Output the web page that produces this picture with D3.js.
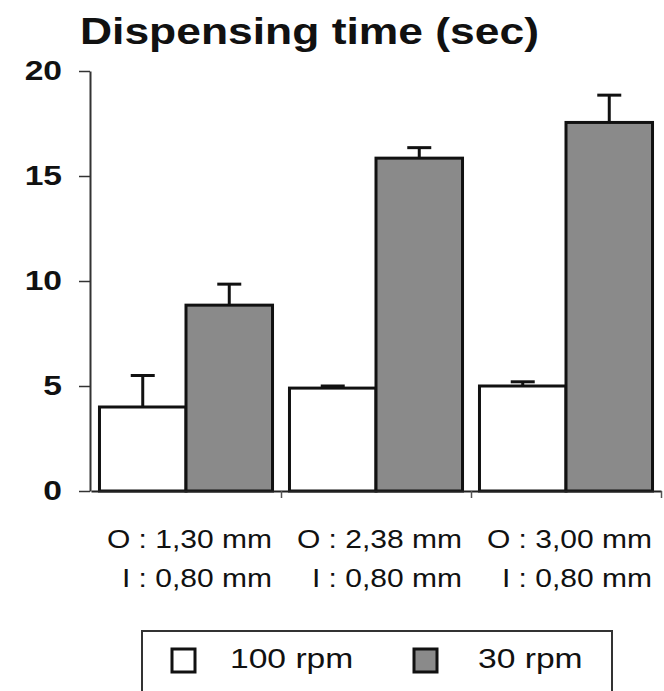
<!DOCTYPE html>
<meta charset="utf-8">
<html>
<head>
  <title>Dispensing time</title>
  <style>
    body { margin: 0; background: #fff; }
    text { font-family: "Liberation Sans", Arial, sans-serif; fill: #111; }
  </style>
</head>
<body>
  <script src="https://d3js.org/d3.v7.js"></script>
  <div id="chart"></div>
  <script>
    // data
    var groups = ["g1", "g2", "g3"];
    var labelsO = ["O : 1,30 mm", "O : 2,38 mm", "O : 3,00 mm"];
    var labelsI = ["I : 0,80 mm", "I : 0,80 mm", "I : 0,80 mm"];
    var seriesNames = ["100 rpm", "30 rpm"];
    var rpm100 = [4.0, 4.9, 5.0];
    var err100 = [1.5, 0.1, 0.2];
    var rpm30 = [8.85, 15.85, 17.55];
    var err30 = [1.0, 0.5, 1.3];
    var yTicks = [0, 5, 10, 15, 20];

    var colors = { "100 rpm": "#ffffff", "30 rpm": "#8a8a8a" };
    var sx = 1.2; // the figure is stretched horizontally

    var W = 664, H = 691;
    var margin = { top: 71, right: 3, bottom: 200, left: 90 };

    var svg = d3.select("#chart").append("svg")
      .attr("width", W).attr("height", H);

    // widen text like the scanned figure
    function stretch(sel) {
      sel.each(function () {
        var w = this.getComputedTextLength();
        this.setAttribute("textLength", w * sx);
        this.setAttribute("lengthAdjust", "spacingAndGlyphs");
      });
    }

    var data = groups.map(function (g, i) {
      return {
        group: g,
        bars: [
          { name: seriesNames[0], v: rpm100[i], e: err100[i] },
          { name: seriesNames[1], v: rpm30[i], e: err30[i] }
        ]
      };
    });

    var y = d3.scaleLinear().domain([0, 20]).range([H - margin.bottom, margin.top]);
    var x0 = d3.scaleBand().domain(groups).range([margin.left + 1, W - margin.right]).padding(0);
    var x1 = d3.scaleBand().domain(seriesNames).range([0, x0.bandwidth()])
      .paddingInner(0).paddingOuter(0.098);

    // title
    svg.append("text")
      .attr("x", 80).attr("y", 44)
      .style("font-size", "37px").style("font-weight", "bold")
      .text("Dispensing time (sec)")
      .call(stretch);

    // bars
    var gGroups = svg.selectAll(".grp").data(data).enter().append("g")
      .attr("class", "grp")
      .attr("transform", function (d) { return "translate(" + x0(d.group) + ",0)"; });

    gGroups.selectAll("rect").data(function (d) { return d.bars; }).enter().append("rect")
      .attr("x", function (d) { return x1(d.name); })
      .attr("y", function (d) { return y(d.v); })
      .attr("width", x1.bandwidth())
      .attr("height", function (d) { return y(0) - y(d.v); })
      .attr("fill", function (d) { return colors[d.name]; })
      .attr("stroke", "#111").attr("stroke-width", 3);

    // error bars
    var capW = 24;
    var eb = gGroups.selectAll(".err").data(function (d) { return d.bars; }).enter().append("g")
      .attr("class", "err").attr("stroke", "#111").attr("stroke-width", 3);
    eb.append("line")
      .attr("x1", function (d) { return x1(d.name) + x1.bandwidth() / 2; })
      .attr("x2", function (d) { return x1(d.name) + x1.bandwidth() / 2; })
      .attr("y1", function (d) { return y(d.v); })
      .attr("y2", function (d) { return y(d.v + d.e); });
    eb.append("line")
      .attr("x1", function (d) { return x1(d.name) + x1.bandwidth() / 2 - capW / 2; })
      .attr("x2", function (d) { return x1(d.name) + x1.bandwidth() / 2 + capW / 2; })
      .attr("y1", function (d) { return y(d.v + d.e); })
      .attr("y2", function (d) { return y(d.v + d.e); });

    // y axis
    var yAxis = svg.append("g")
      .attr("transform", "translate(" + margin.left + ",0)")
      .call(d3.axisLeft(y).tickValues(yTicks).tickSize(11).tickSizeOuter(0).tickPadding(17));
    yAxis.select(".domain").attr("stroke", "#333").attr("stroke-width", 2);
    yAxis.selectAll(".tick line").attr("stroke", "#333").attr("stroke-width", 1.5);
    yAxis.selectAll(".tick text")
      .style("font-size", "28px").style("font-weight", "bold").style("font-family", "Liberation Sans, Arial, sans-serif")
      .attr("fill", "#111")
      .call(stretch);

    // x axis: baseline with ticks at group boundaries
    var xb = d3.scaleLinear().domain([0, groups.length]).range(x0.range());
    var xAxis = svg.append("g")
      .attr("transform", "translate(0," + y(0) + ")")
      .call(d3.axisBottom(xb).tickValues(d3.range(1, groups.length + 1)).tickFormat("").tickSize(7).tickSizeOuter(0));
    xAxis.select(".domain").attr("stroke", "#222").attr("stroke-width", 2);
    xAxis.selectAll(".tick line").attr("stroke", "#555").attr("stroke-width", 1.5);

    // category labels, right aligned under each group
    var lab = svg.selectAll(".lab").data(groups).enter().append("g").attr("class", "lab");
    lab.append("text")
      .attr("x", function (d) { return x0(d) + x0.bandwidth() - 9; })
      .attr("y", 548)
      .attr("text-anchor", "end")
      .style("font-size", "25px")
      .text(function (d, i) { return labelsO[i]; })
      .call(stretch);
    lab.append("text")
      .attr("x", function (d) { return x0(d) + x0.bandwidth() - 9; })
      .attr("y", 587)
      .attr("text-anchor", "end")
      .style("font-size", "25px")
      .text(function (d, i) { return labelsI[i]; })
      .call(stretch);

    // legend
    var legend = svg.append("g");
    legend.append("rect")
      .attr("x", 142).attr("y", 631).attr("width", 470).attr("height", 80)
      .attr("fill", "#fff").attr("stroke", "#333").attr("stroke-width", 2);
    var li = legend.selectAll(".li").data(seriesNames).enter().append("g")
      .attr("class", "li")
      .attr("transform", function (d, i) { return "translate(" + (172 + i * 242) + ",649)"; });
    li.append("rect")
      .attr("width", 23).attr("height", 23)
      .attr("fill", function (d) { return colors[d]; })
      .attr("stroke", "#111").attr("stroke-width", 3);
    li.append("text")
      .attr("x", function (d, i) { return 58 + i * 6; })
      .attr("y", 19)
      .style("font-size", "28px")
      .text(function (d) { return d; })
      .call(stretch);
  </script>
</body>
</html>
